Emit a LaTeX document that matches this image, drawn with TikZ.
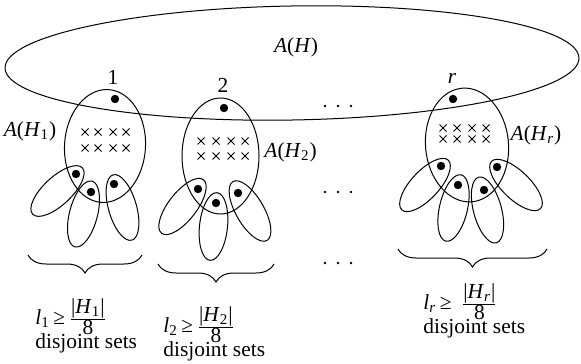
\documentclass[tikz,border=0pt]{standalone}
\usepackage{fontspec}
\setmainfont{Liberation Serif}
\usetikzlibrary{decorations.pathreplacing}
\tikzset{
  set/.style={line width=0.5pt},
  token/.style={fill=black},
  lbl/.style={inner sep=0pt, font=\fontsize{10.7}{13}\selectfont},
  bound/.style={lbl, align=left, anchor=north west},
  under/.style={decorate, decoration={brace, mirror, amplitude=9pt}, line width=0.5pt},
}
% italic letters in the text font
\newcommand\vi[1]{\textit{#1}}
\newcommand\bnd[2][\,]{\vi{l}\textsubscript{#2}\,≥#1$\frac{\mbox{|\vi{H}\textsubscript{#2}|}}{\mbox{8}}$}
\begin{document}
\begin{tikzpicture}[x=0.5pt,y=-0.5pt]
  \useasboundingbox (0,0) rectangle (581,363);
  % the whole set A(H)
  \draw[set, rotate around={1:(292,63)}] (292,63) ellipse [x radius=287, y radius=57];
  \node[lbl] (ah) at (296,47) {\vi{A}(\vi{H})};
  % the three sets A(H_i)
  \draw[set, rotate around={-3.5:(105,146)}] (105,146) ellipse [x radius=40.5, y radius=56.5];
  \draw[set] (220.5,156) ellipse [x radius=38.5, y radius=58];
  \draw[set, rotate around={5:(467,145)}] (467,145) ellipse [x radius=41.5, y radius=57];
  % petals
  \foreach \x/\y/\a in {57.5/191/43, 83.5/214/75.5, 122.5/207.5/106,
                        182.5/206.5/52, 213.5/226.5/84, 250/211/120,
                        425/185/47, 453.5/208/77, 487.5/210/105, 516/185/136}
    \draw[set, rotate around={\a:(\x,\y)}] (\x,\y) ellipse [x radius=34, y radius=14];
  % vertices
  \foreach \x/\y in {115/99, 76/174, 91/192, 114/184,
                     224/108, 198/189, 216/203, 238/193,
                     453/99, 441/166, 458/185, 484/190, 497/167}
    \fill[token] (\x,\y) circle [radius=4.2];
  % crosses
  \foreach \y/\xs in {132/{85,98,113,126}, 148/{85,98,113,126},
                      141/{201,216,231,245}, 156/{201,216,231,245},
                      128/{443,457,472,486}, 139/{443,457,472,486}}
    \foreach \x in \xs
      \draw[line width=0.45pt] (\x,\y) ++(-3.5,-3.5) -- ++(7,7) ++(-7,0) -- ++(7,-7);
  % dots between the groups
  \foreach \y in {106,192,263}
    \foreach \x in {325,338,351}
      \fill (\x,\y) circle [radius=1.4];
  \node[lbl] (n1) at (113,77.5) {1};
  \node[lbl] (n2) at (223,85) {2};
  \node[lbl] (nr) at (452,78) {\vi{r}};
  \node[lbl] (ah1) at (30,131) {\vi{A}(\vi{H}\textsubscript{1})};
  \node[lbl] (ah2) at (290.5,152) {\vi{A}(\vi{H}\textsubscript{2})};
  \node[lbl] (ahr) at (536,135) {\vi{A}(\vi{H}\textsubscript{\vi{r}})};
  % braces and bounds
  \draw[under] (28,255) -- (142,255);
  \draw[under] (158,264) -- (274,264);
  \draw[under] (398,249) -- (547,249);
  \node[bound] (bound1) at (35,298) {\bnd{1}\\[-1pt]disjoint sets};
  \node[bound] (bound2) at (163,306) {\bnd{2}\\[-1pt]disjoint sets};
  \node[bound] (boundr) at (423,283) {\bnd[\;\,]{\vi{r}}\\[-1pt]disjoint sets};
\end{tikzpicture}
\end{document}
